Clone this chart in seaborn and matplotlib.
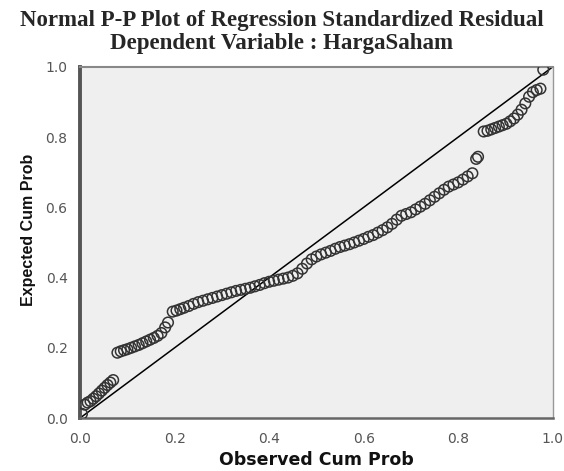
import matplotlib
matplotlib.use("Agg")
import matplotlib.pyplot as plt
import seaborn as sns
import pandas as pd

# observed vs expected cumulative probability
observed_cum_prob = [
    0.004, 0.010, 0.016, 0.022, 0.028, 0.034, 0.040, 0.046, 0.052, 0.058, 0.064, 0.070,
    0.079, 0.086, 0.093, 0.100, 0.108, 0.116, 0.124, 0.132, 0.140, 0.148, 0.156, 0.164,
    0.172, 0.180, 0.186,
    0.196, 0.204, 0.212, 0.220, 0.230, 0.240, 0.250, 0.260, 0.270, 0.280, 0.290, 0.300,
    0.310, 0.320, 0.330, 0.340, 0.350, 0.360, 0.370, 0.380, 0.390, 0.400, 0.410, 0.420,
    0.430, 0.440, 0.450, 0.460, 0.470, 0.480, 0.490, 0.500, 0.510, 0.520, 0.530, 0.540,
    0.550, 0.560, 0.570, 0.580, 0.590, 0.600, 0.610, 0.620, 0.630, 0.640, 0.650, 0.660,
    0.670, 0.680, 0.690, 0.700, 0.710, 0.720, 0.730, 0.740, 0.750, 0.760, 0.770, 0.780,
    0.790, 0.800, 0.810, 0.820, 0.830,
    0.838, 0.842,
    0.854, 0.862, 0.870, 0.878, 0.886, 0.894, 0.902, 0.910, 0.918, 0.926, 0.934, 0.942,
    0.950, 0.958, 0.966, 0.974,
    0.980,
]
expected_cum_prob = [
    0.012, 0.038, 0.044, 0.048, 0.055, 0.062, 0.070, 0.078, 0.086, 0.094, 0.101, 0.108,
    0.186, 0.190, 0.193, 0.196, 0.200, 0.204, 0.208, 0.213, 0.218, 0.223, 0.228, 0.234,
    0.242, 0.258, 0.272,
    0.303, 0.306, 0.310, 0.314, 0.319, 0.325, 0.330, 0.334, 0.338, 0.342, 0.346, 0.350,
    0.354, 0.358, 0.362, 0.365, 0.368, 0.371, 0.375, 0.379, 0.384, 0.388, 0.391, 0.394,
    0.397, 0.400, 0.405, 0.412, 0.425, 0.440, 0.452, 0.460, 0.466, 0.471, 0.476, 0.482,
    0.487, 0.491, 0.495, 0.500, 0.505, 0.510, 0.516, 0.521, 0.528, 0.535, 0.543, 0.553,
    0.565, 0.576, 0.581, 0.586, 0.594, 0.602, 0.610, 0.620, 0.630, 0.640, 0.650, 0.659,
    0.665, 0.671, 0.679, 0.688, 0.697,
    0.738, 0.744,
    0.816, 0.818, 0.822, 0.826, 0.830, 0.834, 0.838, 0.845, 0.853, 0.864, 0.878, 0.896,
    0.915, 0.928, 0.934, 0.938,
    0.992,
]
ref_line = [0.0, 1.0]
tick_values = [0.0, 0.2, 0.4, 0.6, 0.8, 1.0]
tick_labels = ["0.0", "0.2", "0.4", "0.6", "0.8", "1.0"]


def plot_pp(observed, expected):
    df = pd.DataFrame({"Observed": observed, "Expected": expected})

    sns.set_style("white")
    fig = plt.figure(figsize=(5.64, 4.71), dpi=100)
    fig.subplots_adjust(left=0.142, right=0.980, bottom=0.1125, top=0.858)
    ax = fig.add_subplot(111)
    ax.set_facecolor("#efefef")

    # diagonal reference
    sns.lineplot(x=ref_line, y=ref_line, ax=ax, color="black", linewidth=1.1)

    sns.scatterplot(data=df, x="Observed", y="Expected", ax=ax,
                    marker="o", s=58, facecolors="none", edgecolor="#333333",
                    linewidth=1.1, zorder=3)

    ax.set_xlim(0, 1)
    ax.set_ylim(0, 1)
    ax.set_xticks(tick_values)
    ax.set_xticklabels(tick_labels)
    ax.set_yticks(tick_values)
    ax.set_yticklabels(tick_labels)
    ax.tick_params(axis="both", direction="out", length=6, width=1.2,
                   color="#333333", labelcolor="#555555", labelsize=10)
    ax.tick_params(axis="y", pad=3)
    ax.tick_params(axis="x", pad=4)

    for side, (c, lw) in {"left": ("#555555", 2.8), "bottom": ("#666666", 1.8),
                          "top": ("#888888", 1.5), "right": ("#999999", 1.0)}.items():
        ax.spines[side].set_visible(True)
        ax.spines[side].set_color(c)
        ax.spines[side].set_linewidth(lw)

    ax.set_xlabel("Observed Cum Prob", fontsize=12.5, fontweight="bold",
                  family="DejaVu Sans", color="#111111")
    ax.xaxis.set_label_coords(0.499, -0.095)
    ax.set_ylabel("Expected Cum Prob", fontsize=11.5, fontweight="bold",
                  family="Liberation Sans", color="#111111")
    ax.yaxis.set_label_coords(-0.094, 0.536)

    fig.suptitle("Normal P-P Plot of Regression Standardized Residual\n"
                 "Dependent Variable : HargaSaham",
                 x=0.5, y=1 - 10 / 471, va="top", fontsize=16.5, fontweight="bold",
                 family="Liberation Serif", linespacing=1.1)

    fig.savefig("out.png", dpi=100)


plot_pp(observed_cum_prob, expected_cum_prob)
